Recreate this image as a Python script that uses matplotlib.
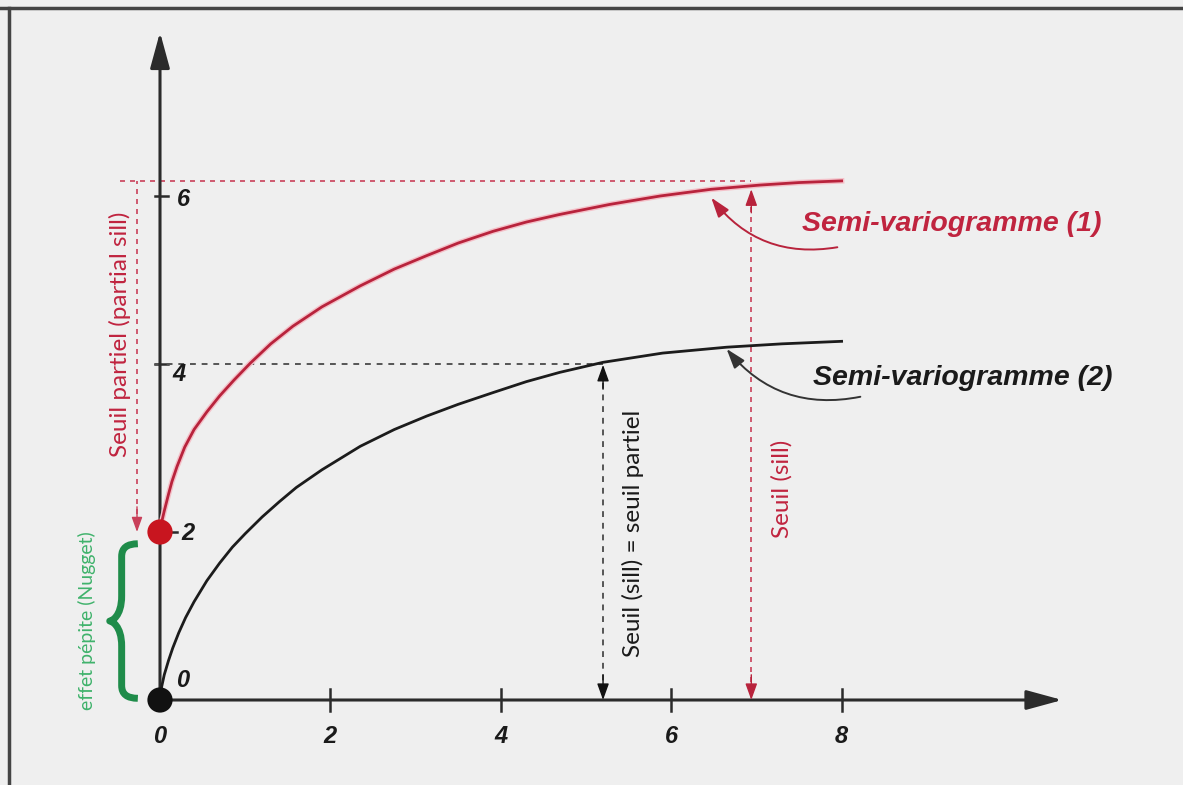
import matplotlib
matplotlib.use("Agg")
import matplotlib.pyplot as plt
from matplotlib.lines import Line2D
from matplotlib.path import Path
from matplotlib.patches import PathPatch

# semi-variogram (1): nugget 2, sill ~6.2
red_x = [0.0, 0.02, 0.05, 0.10, 0.14, 0.20, 0.29, 0.40, 0.55, 0.70, 0.87, 1.06, 1.30, 1.56,
         1.90, 2.35, 2.75, 3.13, 3.50, 3.91, 4.30, 4.69, 5.28, 5.87, 6.47, 7.04, 7.50, 8.0]
red_y = [2.0, 2.12, 2.25, 2.45, 2.60, 2.78, 3.01, 3.22, 3.43, 3.62, 3.81, 4.01, 4.24, 4.45,
         4.68, 4.93, 5.13, 5.29, 5.44, 5.58, 5.69, 5.78, 5.90, 6.00, 6.08, 6.13, 6.16, 6.18]

# semi-variogram (2): no nugget, sill ~4.3
blk_x = [0.0, 0.02, 0.05, 0.10, 0.15, 0.22, 0.30, 0.40, 0.55, 0.70, 0.85, 1.00, 1.20, 1.40,
         1.60, 1.90, 2.35, 2.75, 3.13, 3.50, 3.91, 4.30, 4.69, 5.20, 5.90, 6.65, 7.30, 8.0]
blk_y = [0.0, 0.16, 0.30, 0.47, 0.62, 0.80, 0.98, 1.17, 1.42, 1.63, 1.82, 1.98, 2.18, 2.36,
         2.53, 2.74, 3.02, 3.22, 3.38, 3.52, 3.66, 3.79, 3.90, 4.02, 4.13, 4.20, 4.24, 4.27]

x_ticks = [2, 4, 6, 8]
x_tick_labels = ["2", "4", "6", "8"]
y_ticks = [4, 6]
y_tick_labels = ["4", "6"]

nugget = 2.0
sill_red = 6.18
sill_blk = 4.0
range_red = 6.94
range_blk = 5.2

RED = "#b8233c"
RED_TXT = "#c0243f"
RED_DOT = "#c8151f"
GREEN = "#1f8c4a"
GREEN_TXT = "#3fb26b"
AXIS = "#2b2b2b"
BG = "#efefef"

fig = plt.figure(figsize=(11.83, 7.85), dpi=100, facecolor=BG)
ax = fig.add_axes([0, 0, 1, 1], facecolor=BG)
ax.set_xlim(-160 / 85.2, (1183 - 160) / 85.2)
ax.set_ylim(-85 / 84, 700 / 84)
ax.axis("off")

# outer frame (top and left edges only)
fig.add_artist(Line2D([0, 1], [1 - 8 / 785] * 2, color="#444444", lw=2.5))
fig.add_artist(Line2D([9 / 1183] * 2, [0, 1 - 8 / 785], color="#444444", lw=2.5))

# axes with arrow heads
arrow = dict(arrowstyle="-|>,head_length=1.1,head_width=0.3", color=AXIS, lw=2.2,
             mutation_scale=20, shrinkA=0, shrinkB=0)
ax.annotate("", xy=(0, 7.95), xytext=(0, 0), arrowprops=arrow)
ax.annotate("", xy=(10.59, 0), xytext=(0, 0), arrowprops=arrow)

tick_font = dict(fontsize=17, fontweight="bold", fontstyle="italic",
                 family="Liberation Sans", color="#1a1a1a", ha="center", va="center")
for xt, lab in zip(x_ticks, x_tick_labels):
    ax.plot([xt, xt], [-0.13, 0.13], color=AXIS, lw=1.8)
    ax.text(xt, -0.44, lab, **tick_font)
ax.text(0, -0.44, "0", **tick_font)
for yt, lab in zip(y_ticks, y_tick_labels):
    ax.plot([-0.06, 0.09], [yt, yt], color=AXIS, lw=1.8)
ax.text(0.28, 6 - 0.04, "6", **tick_font)
ax.text(0.22, 4 - 0.12, "4", **tick_font)
ax.plot([0.1, 0.2], [nugget, nugget], color=AXIS, lw=1.8)
ax.text(0.33, nugget - 0.02, "2", **tick_font)
ax.text(0.26, 0.23, "0", **tick_font)

# reference lines for sill / partial sill
dot_red = dict(color="#c9405a", lw=1.2, ls=(0, (3, 3)))
dot_blk = dict(color="#555555", lw=1.4, ls=(0, (3, 3)))
ax.plot([-0.47, range_red], [sill_red, sill_red], **dot_red)
ax.plot([-0.06, range_blk], [sill_blk, sill_blk], **dot_blk)


def small_arrow(x0, y0, x1, y1, color, scale=20):
    ax.annotate("", xy=(x1, y1), xytext=(x0, y0),
                arrowprops=dict(arrowstyle="-|>,head_length=0.5,head_width=0.18", color=color,
                                lw=1, mutation_scale=scale, shrinkA=0, shrinkB=0))


ax.plot([range_red, range_red], [0.1, sill_red - 0.2], **dot_red)
small_arrow(range_red, 0.3, range_red, 0.0, RED)
small_arrow(range_red, 5.8, range_red, 6.08, RED)

ax.plot([range_blk, range_blk], [0.1, sill_blk - 0.2], **dot_blk)
small_arrow(range_blk, 0.3, range_blk, 0.0, "#111111")
small_arrow(range_blk, 3.7, range_blk, 3.99, "#111111")

ax.plot([-0.27, -0.27], [nugget + 0.1, sill_red], **dot_red)
small_arrow(-0.27, nugget + 0.3, -0.27, nugget, "#c9405a", scale=18)

# the two curves
ax.plot(red_x, red_y, color="#f4c0c8", lw=4.0, solid_joinstyle="round", zorder=3)
ax.plot(red_x, red_y, color=RED, lw=2.0, solid_joinstyle="round", zorder=4)
ax.plot(blk_x, blk_y, color="#1c1c1c", lw=2.0, solid_joinstyle="round", zorder=4)

# nugget and origin markers
ax.scatter([0], [nugget], s=330, color=RED_DOT, zorder=6, edgecolors="none")
ax.scatter([0], [0], s=330, color="#111111", zorder=6, edgecolors="none")

# curved pointers to the labels
ax.annotate("", xy=(6.47, 5.98), xytext=(7.95, 5.39),
            arrowprops=dict(arrowstyle="-|>,head_length=0.6,head_width=0.2", color=RED, lw=1.4,
                            mutation_scale=20, shrinkA=0, shrinkB=0,
                            connectionstyle="arc3,rad=-0.3"))
ax.annotate("", xy=(6.65, 4.18), xytext=(8.22, 3.61),
            arrowprops=dict(arrowstyle="-|>,head_length=0.6,head_width=0.2", color="#333333", lw=1.4,
                            mutation_scale=20, shrinkA=0, shrinkB=0,
                            connectionstyle="arc3,rad=-0.3"))

lab_font = dict(fontsize=20.5, fontweight="bold", fontstyle="italic",
                family="Liberation Sans", ha="left", va="center")
ax.text(7.54, 5.67, "Semi-variogramme (1)", color=RED_TXT, **lab_font)
ax.text(7.66, 3.83, "Semi-variogramme (2)", color="#1a1a1a", **lab_font)

# rotated annotations
rot_font = dict(fontsize=17.5, family="Lato", rotation=90, ha="center", va="center")
ax.text(-0.47, 4.35, "Seuil partiel (partial sill)", color=RED_TXT, **rot_font)
ax.text(5.55, 1.98, "Seuil (sill) = seuil partiel", color="#1a1a1a", **rot_font)
ax.text(7.30, 2.51, "Seuil (sill)", color=RED_TXT, **rot_font)
ax.text(-0.86, 0.94, "effet pépite (Nugget)", color=GREEN_TXT,
        fontsize=14, family="Lato", rotation=90, ha="center", va="center")

# curly brace spanning the nugget effect
xr, xm, xl = -0.26, -0.45, -0.59
yb, yt = 0.02, 1.86
ymid = (yb + yt) / 2
verts = [
    (xr, yt), (xm, yt), (xm, yt - 0.15),
    (xm, ymid + 0.3),
    (xm, ymid + 0.05), (xl + 0.02, ymid), (xl, ymid),
    (xl + 0.02, ymid), (xm, ymid - 0.05), (xm, ymid - 0.3),
    (xm, yb + 0.15),
    (xm, yb), (xr, yb),
]
codes = [Path.MOVETO, Path.CURVE3, Path.CURVE3,
         Path.LINETO,
         Path.CURVE4, Path.CURVE4, Path.CURVE4,
         Path.CURVE4, Path.CURVE4, Path.CURVE4,
         Path.LINETO,
         Path.CURVE3, Path.CURVE3]
ax.add_patch(PathPatch(Path(verts, codes), facecolor="none", edgecolor=GREEN,
                       lw=5, capstyle="butt", joinstyle="round"))

fig.savefig("out.png", dpi=100, facecolor=BG)
